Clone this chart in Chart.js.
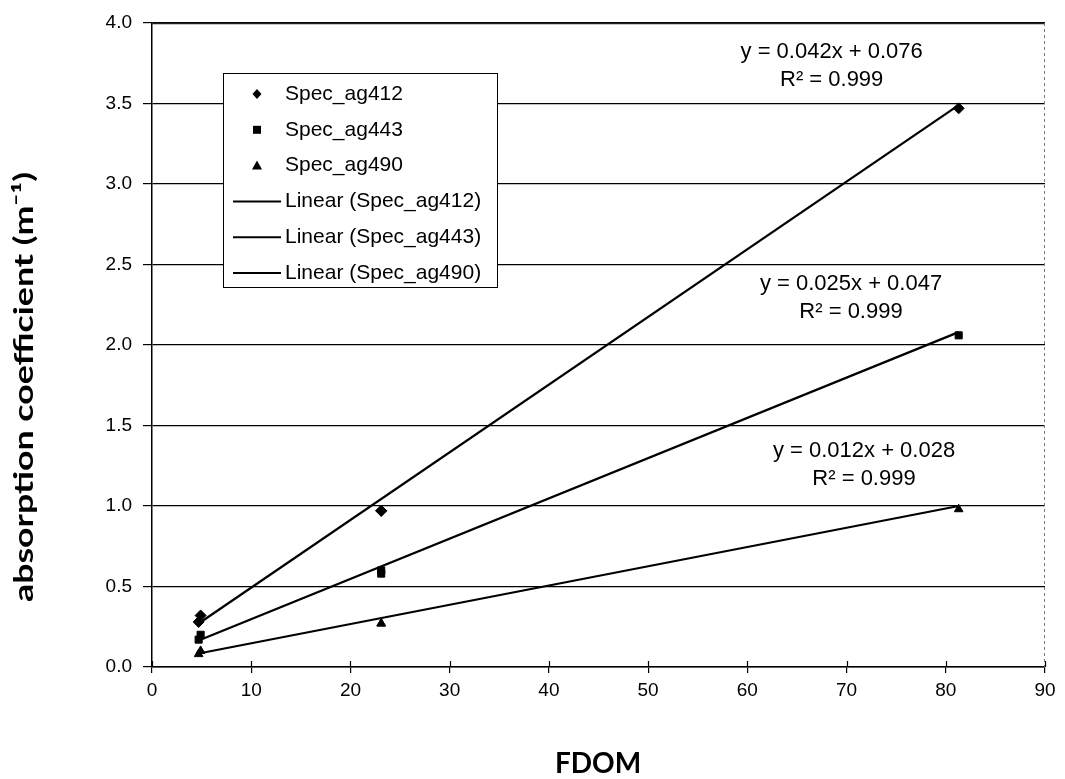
<!DOCTYPE html>
<html>
<head>
<meta charset="utf-8">
<script src="https://cdn.jsdelivr.net/npm/chart.js"></script>
<style>
  html, body { margin: 0; padding: 0; background: #fff; }
  #wrap { width: 1065px; height: 779px; }
</style>
</head>
<body>
<div id="wrap"><canvas id="chart" width="1065" height="779"></canvas></div>
<script>
// ---- data ----
const seriesNames = ["Spec_ag412", "Spec_ag443", "Spec_ag490"];
const fdom = [4.7, 4.9, 23.1, 23.1, 81.3];
const ag412 = [0.28, 0.32, 0.97, 0.97, 3.47];
const ag443 = [0.17, 0.20, 0.58, 0.60, 2.06];
const ag490 = [0.08, 0.10, 0.27, 0.27, 0.98];

// trend line end points (x from min to max FDOM)
const trendX = [4.7, 81.3];
const trend412 = [0.27, 3.49];
const trend443 = [0.165, 2.08];
const trend490 = [0.084, 1.00];

const equations = [
  ["y = 0.042x + 0.076", "R² = 0.999"],
  ["y = 0.025x + 0.047", "R² = 0.999"],
  ["y = 0.012x + 0.028", "R² = 0.999"],
];

const xTicks = [0, 10, 20, 30, 40, 50, 60, 70, 80, 90];
const yTicks = [0, 0.5, 1, 1.5, 2, 2.5, 3, 3.5, 4];

const yTitle = "absorption coefficient (m⁻¹)";
const xTitle = "FDOM";

function toPoints(xs, ys) {
  return xs.map((x, i) => ({ x: x, y: ys[i] }));
}

const markers = ["rectRot", "rect", "triangle"];
const pointSets = [ag412, ag443, ag490];
const trendSets = [trend412, trend443, trend490];

const datasets = [];
pointSets.forEach((ys, i) => {
  datasets.push({
    label: seriesNames[i],
    data: toPoints(fdom, ys),
    showLine: false,
    pointStyle: markers[i],
    pointRadius: i === 0 ? 5.5 : 5,
    backgroundColor: "#000",
    borderColor: "#000",
    borderWidth: 1,
  });
});
trendSets.forEach((ys, i) => {
  datasets.push({
    label: `Linear (${seriesNames[i]})`,
    data: toPoints(trendX, ys),
    showLine: true,
    pointRadius: 0,
    borderColor: "#000",
    borderWidth: 2.2,
    fill: false,
  });
});

// where the equation labels sit (in axis units)
const eqPos = [
  { x: 68.5, y: 3.82 },
  { x: 70.45, y: 2.38 },
  { x: 71.76, y: 1.345 },
];

const TXT = "'Liberation Sans', Arial, sans-serif";

const extras = {
  id: "extras",
  afterDraw(chart) {
    const ctx = chart.ctx;
    const a = chart.chartArea;
    const xs = chart.scales.x, ys = chart.scales.y;
    ctx.save();

    // top border solid, right border dashed
    ctx.strokeStyle = "#222";
    ctx.lineWidth = 1.5;
    ctx.beginPath();
    ctx.moveTo(a.left, a.top + 0.5);
    ctx.lineTo(a.right, a.top + 0.5);
    ctx.stroke();
    ctx.strokeStyle = "#777";
    ctx.lineWidth = 1;
    ctx.setLineDash([3, 3]);
    ctx.beginPath();
    ctx.moveTo(a.right - 0.5, a.top);
    ctx.lineTo(a.right - 0.5, a.bottom);
    ctx.stroke();
    ctx.setLineDash([]);

    // cross ticks on the x axis (inside part)
    ctx.strokeStyle = "#000";
    ctx.lineWidth = 1.2;
    xTicks.forEach((v) => {
      const px = Math.round(xs.getPixelForValue(v)) + 0.5;
      ctx.beginPath();
      ctx.moveTo(px, a.bottom - 6);
      ctx.lineTo(px, a.bottom);
      ctx.stroke();
    });

    // y axis title, stretched to the length it has in the figure
    ctx.fillStyle = "#000";
    ctx.font = "bold 26px Lato, 'Open Sans', sans-serif";
    ctx.textAlign = "center";
    ctx.textBaseline = "middle";
    ctx.save();
    ctx.translate(25, 387);
    ctx.rotate(-Math.PI / 2);
    const tw = ctx.measureText(yTitle).width;
    ctx.scale(430 / tw, 1);
    ctx.fillText(yTitle, 0, 0);
    ctx.restore();

    // x axis title
    ctx.font = "bold 28px Lato, 'Open Sans', sans-serif";
    ctx.fillText(xTitle, 598, 764);

    // equations
    ctx.font = "22px " + TXT;
    equations.forEach((lines, i) => {
      const px = xs.getPixelForValue(eqPos[i].x);
      const py = ys.getPixelForValue(eqPos[i].y);
      ctx.fillText(lines[0], px, py);
      ctx.fillText(lines[1], px, py + 28);
    });

    // legend box
    const bx = 223, by = 73, bw = 274, bh = 214;
    ctx.fillStyle = "#fff";
    ctx.fillRect(bx, by, bw, bh);
    ctx.strokeStyle = "#000";
    ctx.lineWidth = 1;
    ctx.strokeRect(bx + 0.5, by + 0.5, bw, bh);

    ctx.font = "21px " + TXT;
    ctx.textAlign = "left";
    ctx.fillStyle = "#000";
    const rowH = 35.8;
    const y0 = by + 21;
    datasets.forEach((ds, i) => {
      const ry = y0 + i * rowH;
      if (i < 3) {
        const mx = bx + 34;
        ctx.beginPath();
        if (i === 0) {
          ctx.moveTo(mx, ry - 5); ctx.lineTo(mx + 4.5, ry); ctx.lineTo(mx, ry + 5); ctx.lineTo(mx - 4.5, ry);
        } else if (i === 1) {
          ctx.rect(mx - 4, ry - 4, 8, 8);
        } else {
          ctx.moveTo(mx, ry - 5); ctx.lineTo(mx + 5, ry + 4); ctx.lineTo(mx - 5, ry + 4);
        }
        ctx.closePath();
        ctx.fill();
        ctx.fillText(ds.label, bx + 62, ry);
      } else {
        ctx.strokeStyle = "#000";
        ctx.lineWidth = 2;
        ctx.beginPath();
        ctx.moveTo(bx + 10, ry);
        ctx.lineTo(bx + 58, ry);
        ctx.stroke();
        ctx.fillText(ds.label, bx + 62, ry);
      }
    });

    ctx.restore();
  },
};

new Chart(document.getElementById("chart").getContext("2d"), {
  type: "scatter",
  data: { datasets: datasets },
  options: {
    responsive: false,
    animation: false,
    layout: { padding: { top: 23, right: 20, left: 0, bottom: 0 } },
    plugins: { legend: { display: false }, tooltip: { enabled: false } },
    scales: {
      x: {
        type: "linear",
        min: 0,
        max: 90,
        afterBuildTicks: (s) => { s.ticks = xTicks.map((v) => ({ value: v })); },
        afterFit: (s) => { s.height = 112; },
        ticks: {
          color: "#000",
          font: { family: TXT, size: 19 },
          padding: 6,
          maxRotation: 0,
        },
        grid: {
          drawOnChartArea: false,
          color: "#000",
          lineWidth: 1.2,
          tickLength: 6,
        },
        border: { color: "#000", width: 1.5 },
      },
      y: {
        type: "linear",
        min: 0,
        max: 4,
        afterBuildTicks: (s) => { s.ticks = yTicks.map((v) => ({ value: v })); },
        afterFit: (s) => { s.width = 152; },
        ticks: {
          color: "#000",
          font: { family: TXT, size: 19 },
          padding: 11,
          callback: (v) => Number(v).toFixed(1),
        },
        grid: {
          color: "#000",
          lineWidth: 1.2,
          tickLength: 9,
        },
        border: { color: "#000", width: 1.5 },
      },
    },
  },
  plugins: [extras],
});
</script>
</body>
</html>
